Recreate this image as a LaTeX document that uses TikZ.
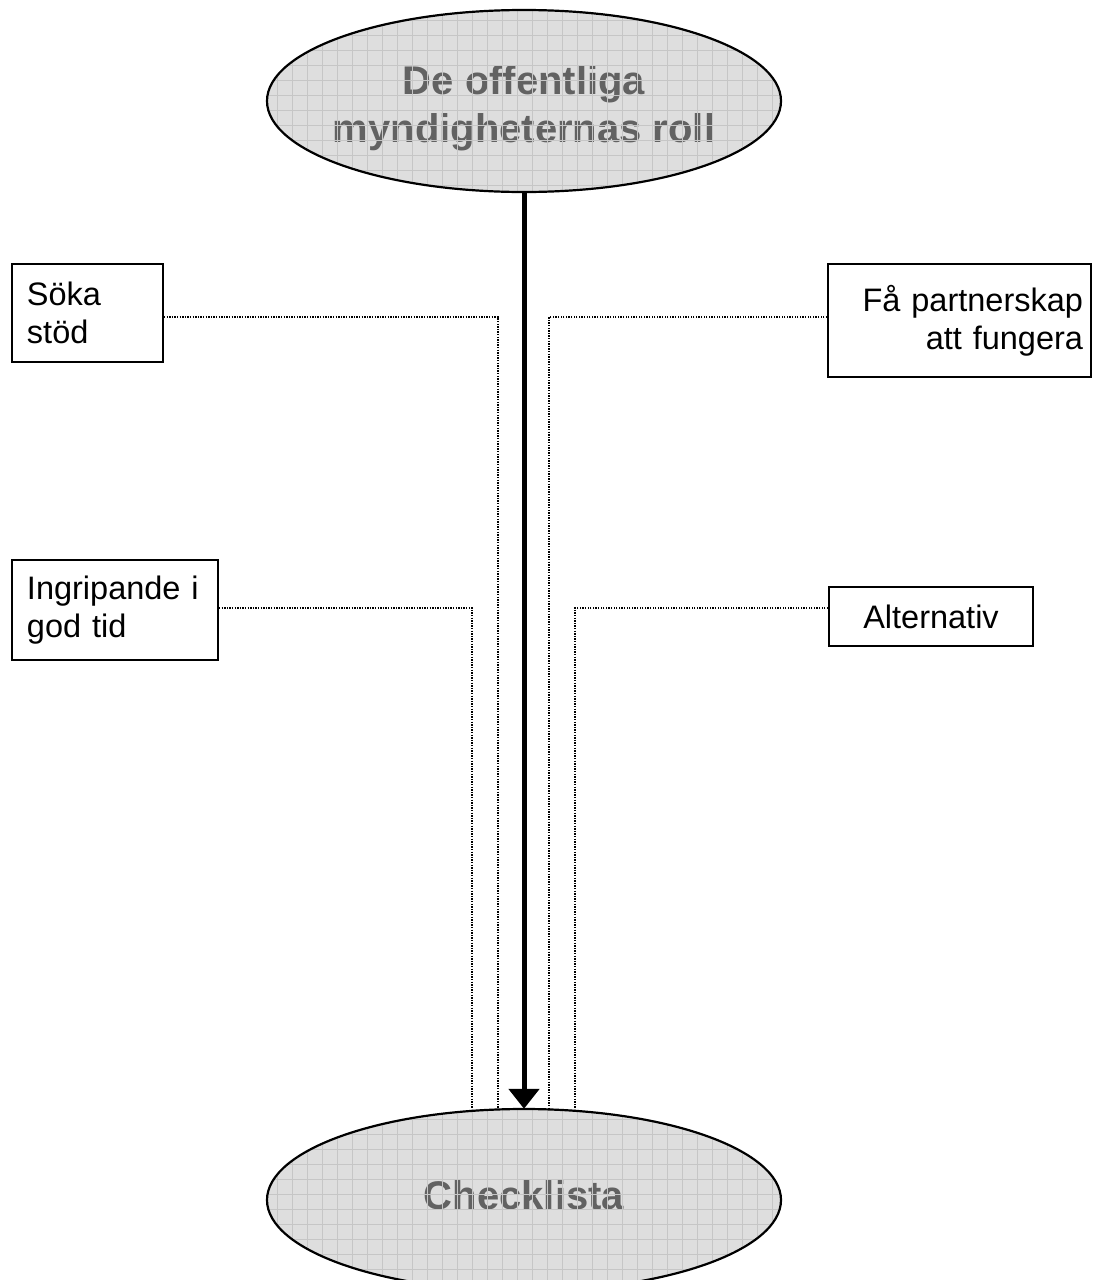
\documentclass[tikz,border=0pt]{standalone}
\usepackage{fontspec}
\setmainfont{Liberation Sans}
\usetikzlibrary{arrows.meta,shapes.geometric}
\definecolor{ellfill}{HTML}{DEDEDE}
\definecolor{ellgrid}{HTML}{C6C6C6}
\definecolor{elltext}{HTML}{626262}
\tikzset{
  ellshape/.style={ellipse, fill=ellfill, minimum width=514pt, minimum height=182pt, inner sep=0pt},
  elltxt/.style={text=elltext, font=\fontsize{40}{48}\selectfont\bfseries, align=center, inner sep=0pt},
  box/.style={rectangle, draw=black, line width=2pt, font=\fontsize{32.5}{38}\selectfont},
  conn/.style={dash pattern=on 1.3pt off 1.3pt, line width=1.3pt, black},
  mainarrow/.style={line width=5pt, -{Triangle[width=30pt,length=20pt]}}
}
\begin{document}
\begin{tikzpicture}[x=1pt,y=-1pt]
\useasboundingbox (0,0) rectangle (1093,1280);
\fill[white] (0,0) rectangle (1093,1280);

% ellipses with grid texture
\node[ellshape] (top) at (524,101) {};
\node[ellshape] (bot) at (524,1200) {};
\node[elltxt] (toptext) at (524,108) {De offentliga\\myndigheternas roll};
\node[elltxt] (bottext) at (524,1195) {Checklista};
\begin{scope}
  \clip (524,101) ellipse [x radius=257, y radius=91];
  \foreach \x in {262,277,...,790} \draw[ellgrid, line width=0.7pt] (\x,0) -- (\x,200);
  \foreach \y in {5,20,...,200} \draw[ellgrid, line width=0.7pt] (260,\y) -- (790,\y);
\end{scope}
\begin{scope}
  \clip (524,1200) ellipse [x radius=257, y radius=91];
  \foreach \x in {262,277,...,790} \draw[ellgrid, line width=0.7pt] (\x,1100) -- (\x,1300);
  \foreach \y in {1104,1119,...,1300} \draw[ellgrid, line width=0.7pt] (260,\y) -- (790,\y);
\end{scope}
\draw[line width=2.2pt] (top.center) ellipse [x radius=257, y radius=91];
\draw[line width=2.2pt] (bot.center) ellipse [x radius=257, y radius=91];

% boxes
\node[box, minimum width=151pt, minimum height=98pt, text width=121pt, inner xsep=15pt, align=left]
  (soka) at (87.5,313) {Söka\\stöd};
\node[box, minimum width=263pt, minimum height=113pt, text width=247pt, inner xsep=8pt, align=right]
  (fa) at (959.5,320.5) {Få partnerskap\\att fungera};
\node[box, minimum width=206pt, minimum height=100pt, text width=176pt, inner xsep=15pt, align=left]
  (ingr) at (115,610) {Ingripande i\\god tid};
\node[box, minimum width=204pt, minimum height=59pt, align=center]
  (alt) at (931,616.5) {Alternativ};

% dotted connectors
\coordinate (c1) at (498,1108);
\coordinate (c2) at (549,1108);
\coordinate (c3) at (472,1109);
\coordinate (c4) at (575,1109);
\draw[conn] ([yshift=-4pt]soka.east) -| (c1);
\draw[conn] ([yshift=3.5pt]fa.west) -| (c2);
\draw[conn] ([yshift=2pt]ingr.east) -| (c3);
\draw[conn] ([yshift=8.5pt]alt.west) -| (c4);

% main arrow
\draw[mainarrow] (top.south) -- (bot.north);
\end{tikzpicture}
\end{document}
